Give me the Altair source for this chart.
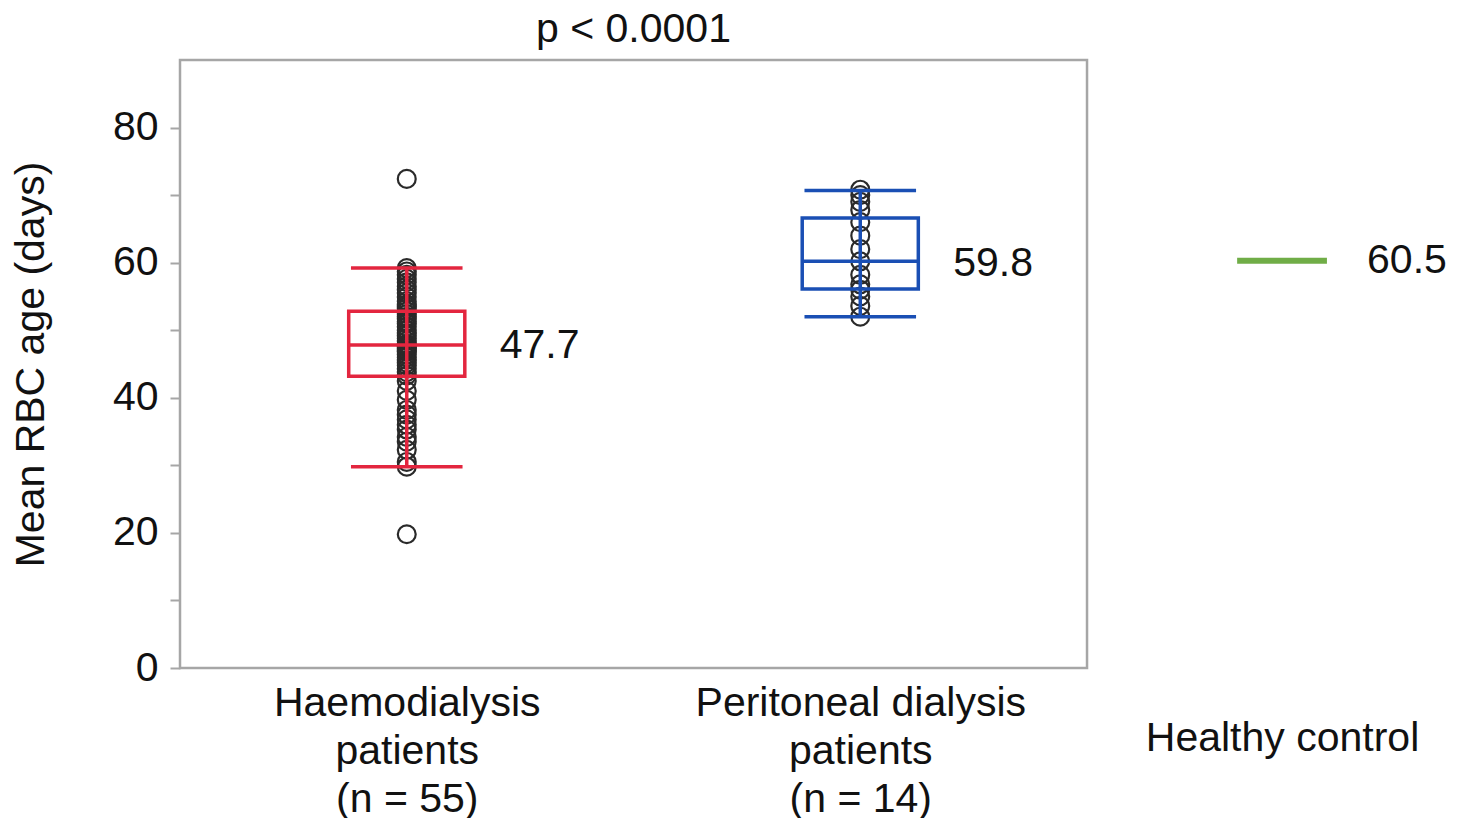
import altair as alt
import pandas as pd

# ---------------- data ----------------
groups = ["Haemodialysis patients", "Peritoneal dialysis patients", "Healthy control"]
group_pos = [0.5, 1.5, 2.43]
group_lines = [["Haemodialysis", "patients", "(n = 55)"],
               ["Peritoneal dialysis", "patients", "(n = 14)"],
               ["Healthy control"]]
group_colors = ["#E3263F", "#1A4FB4", "#70AD47"]

hd_values = [19.8, 29.8, 30.5, 32.3, 33.5, 34.2, 35.3, 36.0, 36.8, 37.5, 38.2, 39.7, 41.0, 42.5,
             43.3, 43.8, 44.3, 44.8, 45.2, 45.6, 46.0, 46.4, 46.8, 47.0, 47.3, 47.5, 47.7,
             47.8,
             48.0, 48.4, 48.8, 49.2, 49.6, 50.0, 50.5, 51.0, 51.3, 51.7, 52.0, 52.4, 52.8,
             53.2, 53.5, 53.8, 54.3, 54.9, 55.5, 56.0, 56.5, 57.1, 57.6, 58.2, 58.7, 59.2,
             72.4]
pd_values = [52.0, 53.6, 55.0, 56.0, 56.8, 58.2, 60.2, 62.0, 64.0, 66.0, 67.8, 69.0, 70.0, 70.8]

box_groups = groups[:2]
whisker_low = [29.8, 52.0]
q1 = [43.2, 56.1]
median = [47.8, 60.2]
q3 = [52.8, 66.6]
whisker_high = [59.2, 70.7]
box_label = ["47.7", "59.8"]
box_label_value = [47.7, 59.8]

healthy_value = [60.3]
healthy_label = ["60.5"]

frame_x = [0, 2]
frame_y = [0, 90]
y_ticks = [0, 10, 20, 30, 40, 50, 60, 70, 80]
title_text = "p < 0.0001"

# ---------------- tables ----------------
pos_map = dict(zip(groups, group_pos))
box_df = pd.DataFrame({
    "group": box_groups, "lo": whisker_low, "q1": q1, "med": median,
    "q3": q3, "hi": whisker_high, "label": box_label, "lv": box_label_value,
})
box_df["pos"] = box_df["group"].map(pos_map)

pts_df = pd.DataFrame({
    "group": [groups[0]] * len(hd_values) + [groups[1]] * len(pd_values),
    "value": hd_values + pd_values,
})
pts_df["pos"] = pts_df["group"].map(pos_map)

hc_df = pd.DataFrame({"group": [groups[2]], "value": healthy_value, "label": healthy_label})
hc_df["pos"] = hc_df["group"].map(pos_map)

frame_df = pd.DataFrame({"x": [frame_x[0]], "x2": [frame_x[1]], "y": [frame_y[0]], "y2": [frame_y[1]]})
title_df = pd.DataFrame({"x": [sum(frame_x) / 2], "y": [frame_y[1]], "t": [title_text]})

# ---------------- scales / axes ----------------
FONT = "Liberation Sans"
FS = 41
GRAY = "#A6A6A6"
INK = "#111111"

xscale = alt.Scale(domain=[0, 2.818], nice=False, zero=False)
yscale = alt.Scale(domain=frame_y, nice=False, zero=True)
cscale = alt.Scale(domain=groups, range=group_colors)

lines_js = "[" + ",".join("[" + ",".join("'" + s + "'" for s in ln) + "]" for ln in group_lines) + "]"
pos_js = "[" + ",".join(str(p) for p in group_pos) + "]"

x_axis = alt.Axis(values=group_pos, labelExpr=f"{lines_js}[indexof({pos_js}, datum.value)]",
                  ticks=False, domain=False, grid=False, title=None, labelFontSize=FS,
                  labelFont=FONT, labelColor=INK, labelBaseline="top",
                  labelLineHeight=48,
                  labelPadding={"condition": {"test": f"datum.value > {group_pos[1]}", "value": 50},
                                "value": 15},
                  labelOverlap=False, labelFlush=False, labelBound=False, labelLimit=600)
y_axis = alt.Axis(values=y_ticks, labelExpr="datum.value % 20 == 0 ? datum.label : ''",
                  grid=False, domain=False, tickColor=GRAY, tickWidth=2, tickSize=10,
                  labelFontSize=FS, labelFont=FONT, labelColor=INK, labelPadding=12,
                  title="Mean RBC age (days)", titleFontSize=FS, titleFont=FONT,
                  titleFontWeight="normal", titleColor=INK, titlePadding=60)


def X(field):
    return alt.X(field, scale=xscale, axis=x_axis)


def Y(field):
    return alt.Y(field, scale=yscale, axis=y_axis)


frame = alt.Chart(frame_df).mark_rect(fillOpacity=0, stroke=GRAY, strokeWidth=2.5).encode(
    x=X("x:Q"), x2="x2:Q", y=Y("y:Q"), y2="y2:Q",
)

pts = alt.Chart(pts_df).mark_point(shape="circle", filled=False, size=320, strokeWidth=2.2,
                                   color="#2A2A2A", opacity=1).encode(
    x=X("pos:Q"), y=Y("value:Q"),
)

base = alt.Chart(box_df).transform_calculate(
    bx1="datum.pos - 0.128", bx2="datum.pos + 0.128",
    cx1="datum.pos - 0.123", cx2="datum.pos + 0.123",
)
col = alt.Color("group:N", scale=cscale, legend=None)

whisk = base.mark_rule(strokeWidth=3.5).encode(x=X("pos:Q"), y=Y("lo:Q"), y2="hi:Q", color=col)
cap_lo = base.mark_rule(strokeWidth=3.5).encode(x=X("cx1:Q"), x2="cx2:Q", y=Y("lo:Q"), color=col)
cap_hi = base.mark_rule(strokeWidth=3.5).encode(x=X("cx1:Q"), x2="cx2:Q", y=Y("hi:Q"), color=col)
box = base.mark_rect(fillOpacity=0, strokeWidth=3.5).encode(
    x=X("bx1:Q"), x2="bx2:Q", y=Y("q1:Q"), y2="q3:Q",
    stroke=alt.Stroke("group:N", scale=cscale, legend=None))
med = base.mark_rule(strokeWidth=3.5).encode(x=X("bx1:Q"), x2="bx2:Q", y=Y("med:Q"), color=col)
blab = base.mark_text(align="left", baseline="middle", dx=93, fontSize=FS, font=FONT,
                      color=INK).encode(x=X("pos:Q"), y=Y("lv:Q"), text="label:N")

hc_base = alt.Chart(hc_df).transform_calculate(hx1="datum.pos - 0.099", hx2="datum.pos + 0.099")
hc_line = hc_base.mark_rule(strokeWidth=6).encode(x=X("hx1:Q"), x2="hx2:Q", y=Y("value:Q"), color=col)
hc_lab = hc_base.mark_text(align="left", baseline="middle", dx=85, fontSize=FS, font=FONT,
                           color=INK).encode(x=X("pos:Q"), y=Y("value:Q"), text="label:N")

title = alt.Chart(title_df).mark_text(align="center", baseline="alphabetic", dy=-18,
                                      fontSize=FS, font=FONT, color=INK).encode(
    x=X("x:Q"), y=Y("y:Q"), text="t:N")

chart = alt.layer(frame, pts, whisk, cap_lo, cap_hi, box, med, blab, hc_line, hc_lab, title).properties(
    width=1278, height=608,
    padding={"left": 172, "top": 52, "right": 0, "bottom": 150},
    autosize=alt.AutoSizeParams(type="none"),
    background="white",
).configure(font=FONT).configure_view(stroke=None)

chart.save("out.html", embed_options={"renderer": "svg", "actions": False})
